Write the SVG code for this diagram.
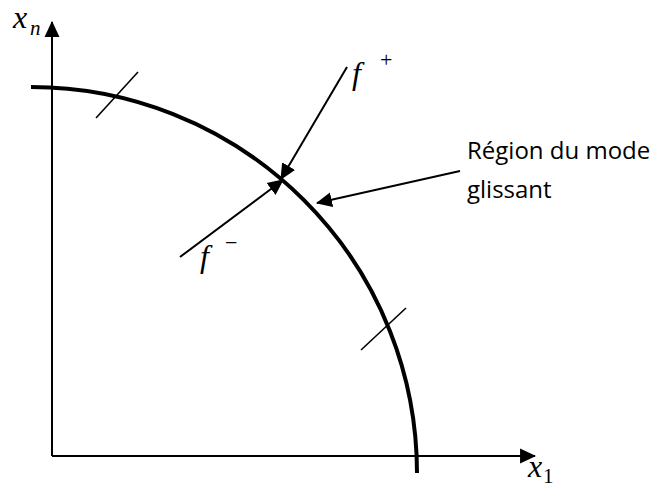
<svg xmlns="http://www.w3.org/2000/svg" width="662" height="487" viewBox="0 0 662 487">
  <style>
    .ax { stroke: #000; stroke-width: 2; fill: none; }
    .curve { stroke: #000; stroke-width: 4; fill: none; }
    .tick { stroke: #000; stroke-width: 1.6; fill: none; }
    .arr { stroke: #000; stroke-width: 2; fill: none; }
    .math { font-family: 'Liberation Serif', 'DejaVu Serif', 'Times New Roman', serif; font-style: italic; fill: #000; }
    .up { font-family: 'Liberation Serif', 'DejaVu Serif', 'Times New Roman', serif; font-style: normal; fill: #000; }
    .lbl { font-family: 'Open Sans', 'Liberation Sans', sans-serif; font-size: 24px; fill: #000; }
  </style>
  <defs>
    <marker id="ah" markerUnits="userSpaceOnUse" markerWidth="16" markerHeight="16" viewBox="0 0 15 14" refX="14" refY="7" orient="auto">
      <path d="M0,0 L15,7 L0,14 z" fill="#000"/>
    </marker>
  </defs>

  <g id="axes">
    <line class="ax" x1="52" y1="456" x2="52" y2="22" marker-end="url(#ah)"/>
    <line class="ax" x1="52" y1="456" x2="535" y2="456" marker-end="url(#ah)"/>
  </g>

  <g id="curve">
    <path class="curve" d="M 31 87 A 386 386 0 0 1 417 473"/>
  </g>

  <g id="ticks">
    <line class="tick" x1="96" y1="118" x2="138" y2="72"/>
    <line class="tick" x1="361" y1="350" x2="406" y2="308"/>
  </g>

  <g id="connectors">
    <line class="arr" x1="347" y1="67" x2="281" y2="179" marker-end="url(#ah)"/>
    <line class="arr" x1="180" y1="257" x2="283" y2="180" marker-end="url(#ah)"/>
    <line class="arr" x1="460" y1="171" x2="317" y2="203" marker-end="url(#ah)"/>
  </g>

  <g id="label-xn">
    <text class="math" x="13" y="28" font-size="32">x</text>
    <text class="math" x="30" y="35" font-size="21">n</text>
  </g>
  <g id="label-x1">
    <text class="math" x="528" y="477" font-size="32">x</text>
    <text class="up" x="543" y="483" font-size="21">1</text>
  </g>
  <g id="label-fplus">
    <text class="math" x="352" y="84" font-size="32">f</text>
    <text class="up" x="380" y="67" font-size="22">+</text>
  </g>
  <g id="label-fminus">
    <text class="math" x="200" y="267" font-size="32">f</text>
    <text class="up" x="225" y="250" font-size="22">−</text>
  </g>
  <g id="label-region">
    <text class="lbl" x="467" y="159">Région du mode</text>
    <text class="lbl" x="467" y="198">glissant</text>
  </g>
</svg>
